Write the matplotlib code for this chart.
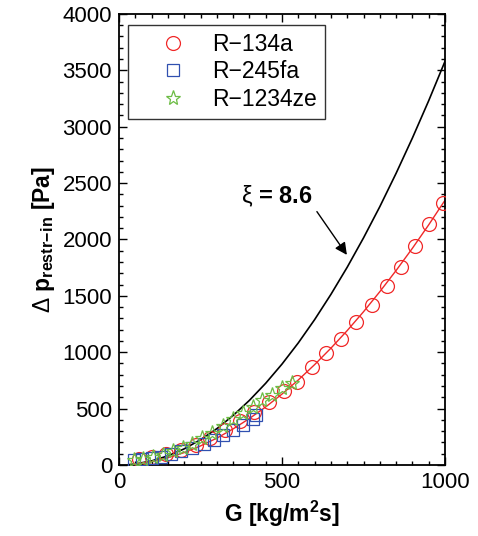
import numpy as np
import matplotlib.pyplot as plt

plt.rcParams['font.family'] = ['Liberation Sans', 'DejaVu Sans']
plt.rcParams['mathtext.fontset'] = 'custom'
plt.rcParams['mathtext.rm'] = 'Liberation Sans'
plt.rcParams['mathtext.bf'] = 'Liberation Sans:bold'

# R-134a measured points
g_134a = [60, 100, 145, 190, 235, 280, 325, 370, 415, 460, 505, 545, 591,
          635, 680, 727, 775, 821, 864, 908, 951, 995]
dp_134a = [55, 75, 100, 135, 180, 240, 310, 390, 470, 560, 655, 739, 867,
           991, 1115, 1266, 1419, 1588, 1759, 1942, 2135, 2326]

# R-245fa measured points
g_245fa = [45, 70, 100, 130, 160, 190, 225, 260, 290, 320, 350, 380, 410, 421]
dp_245fa = [45, 50, 60, 75, 95, 120, 150, 185, 225, 265, 310, 355, 410, 443]

# R-1234ze measured points
g_1234ze = [45, 75, 105, 135, 165, 195, 225, 255, 285, 320, 350, 380, 410,
            440, 470, 500, 530]
dp_1234ze = [45, 55, 70, 90, 120, 150, 190, 235, 285, 345, 410, 460, 515,
             575, 620, 680, 725]

# fit through R-134a points
g_fit = [50, 100, 150, 200, 250, 300, 350, 400, 450, 500, 550, 600, 650,
         700, 750, 800, 850, 900, 950, 1000]
dp_fit = [8, 30, 64, 110, 169, 238, 320, 412, 515, 629, 754, 890, 1036,
          1192, 1359, 1537, 1725, 1922, 2130, 2348]

# model curve xi = 8.6
g_model = [30, 50, 100, 150, 200, 250, 300, 350, 400, 450, 500, 550, 600,
           650, 700, 750, 800, 850, 900, 950, 1000]
dp_model = [3, 9, 36, 81, 143, 224, 322, 439, 573, 725, 895, 1083, 1289,
            1513, 1754, 2014, 2291, 2587, 2900, 3231, 3580]

red = '#f02828'
blue = '#3050b0'
green = '#6cbc44'

fig = plt.figure(figsize=(4.78, 5.36), dpi=100)
ax = fig.add_axes([0.249, 0.1325, 0.682, 0.8415])

ax.plot(g_model, dp_model, color='black', lw=1.2, zorder=2)
ax.plot(g_fit, dp_fit, color=red, lw=1.0, zorder=2)
ax.plot(g_134a, dp_134a, 'o', mfc='none', mec=red, ms=10, mew=0.9,
        label='R\u2212134a', zorder=3)
ax.plot(g_245fa, dp_245fa, 's', mfc='none', mec=blue, ms=9, mew=0.9,
        label='R\u2212245fa', zorder=3)
ax.plot(g_1234ze, dp_1234ze, '*', mfc='none', mec=green, ms=11, mew=0.9,
        label='R\u22121234ze', zorder=3)

ax.text(483, 2380, r'$\mathrm{\xi}$ = 8.6', fontsize=17, fontweight='bold',
        ha='center', va='center')
ax.annotate('', xy=(699, 1863), xytext=(607, 2247),
            arrowprops=dict(arrowstyle='-|>', color='black', lw=1,
                            mutation_scale=18, shrinkA=0, shrinkB=0))

ax.set_xlim(0, 1000)
ax.set_ylim(0, 4000)
ax.set_xticks([0, 500, 1000])
ax.set_yticks(np.arange(0, 4001, 500))
ax.set_xticks(np.arange(0, 1001, 50), minor=True)
ax.set_yticks(np.arange(0, 4001, 100), minor=True)
ax.tick_params(which='both', direction='in', top=True, right=True,
               labelsize=16, width=1)
ax.tick_params(which='major', length=6, pad=5)
ax.tick_params(which='minor', length=3)
for s in ax.spines.values():
    s.set_linewidth(1.3)

ax.set_xlabel(r'G [kg/m$^\mathbf{2}$s]', fontsize=16.5, fontweight='bold',
              labelpad=4)
ax.set_ylabel(r'$\Delta$ $\mathbf{p_{restr\!-\!in}}$ [Pa]', fontsize=16.5,
              fontweight='bold', labelpad=4)

leg = ax.legend(loc='upper left', bbox_to_anchor=(0.027, 0.976),
                borderaxespad=0, fontsize=16.5, frameon=True, fancybox=False,
                edgecolor='black', handletextpad=0.15, borderpad=0.35,
                labelspacing=0.2, handlelength=3.2)
leg.get_frame().set_linewidth(1.0)

fig.savefig('out.png', dpi=100)
